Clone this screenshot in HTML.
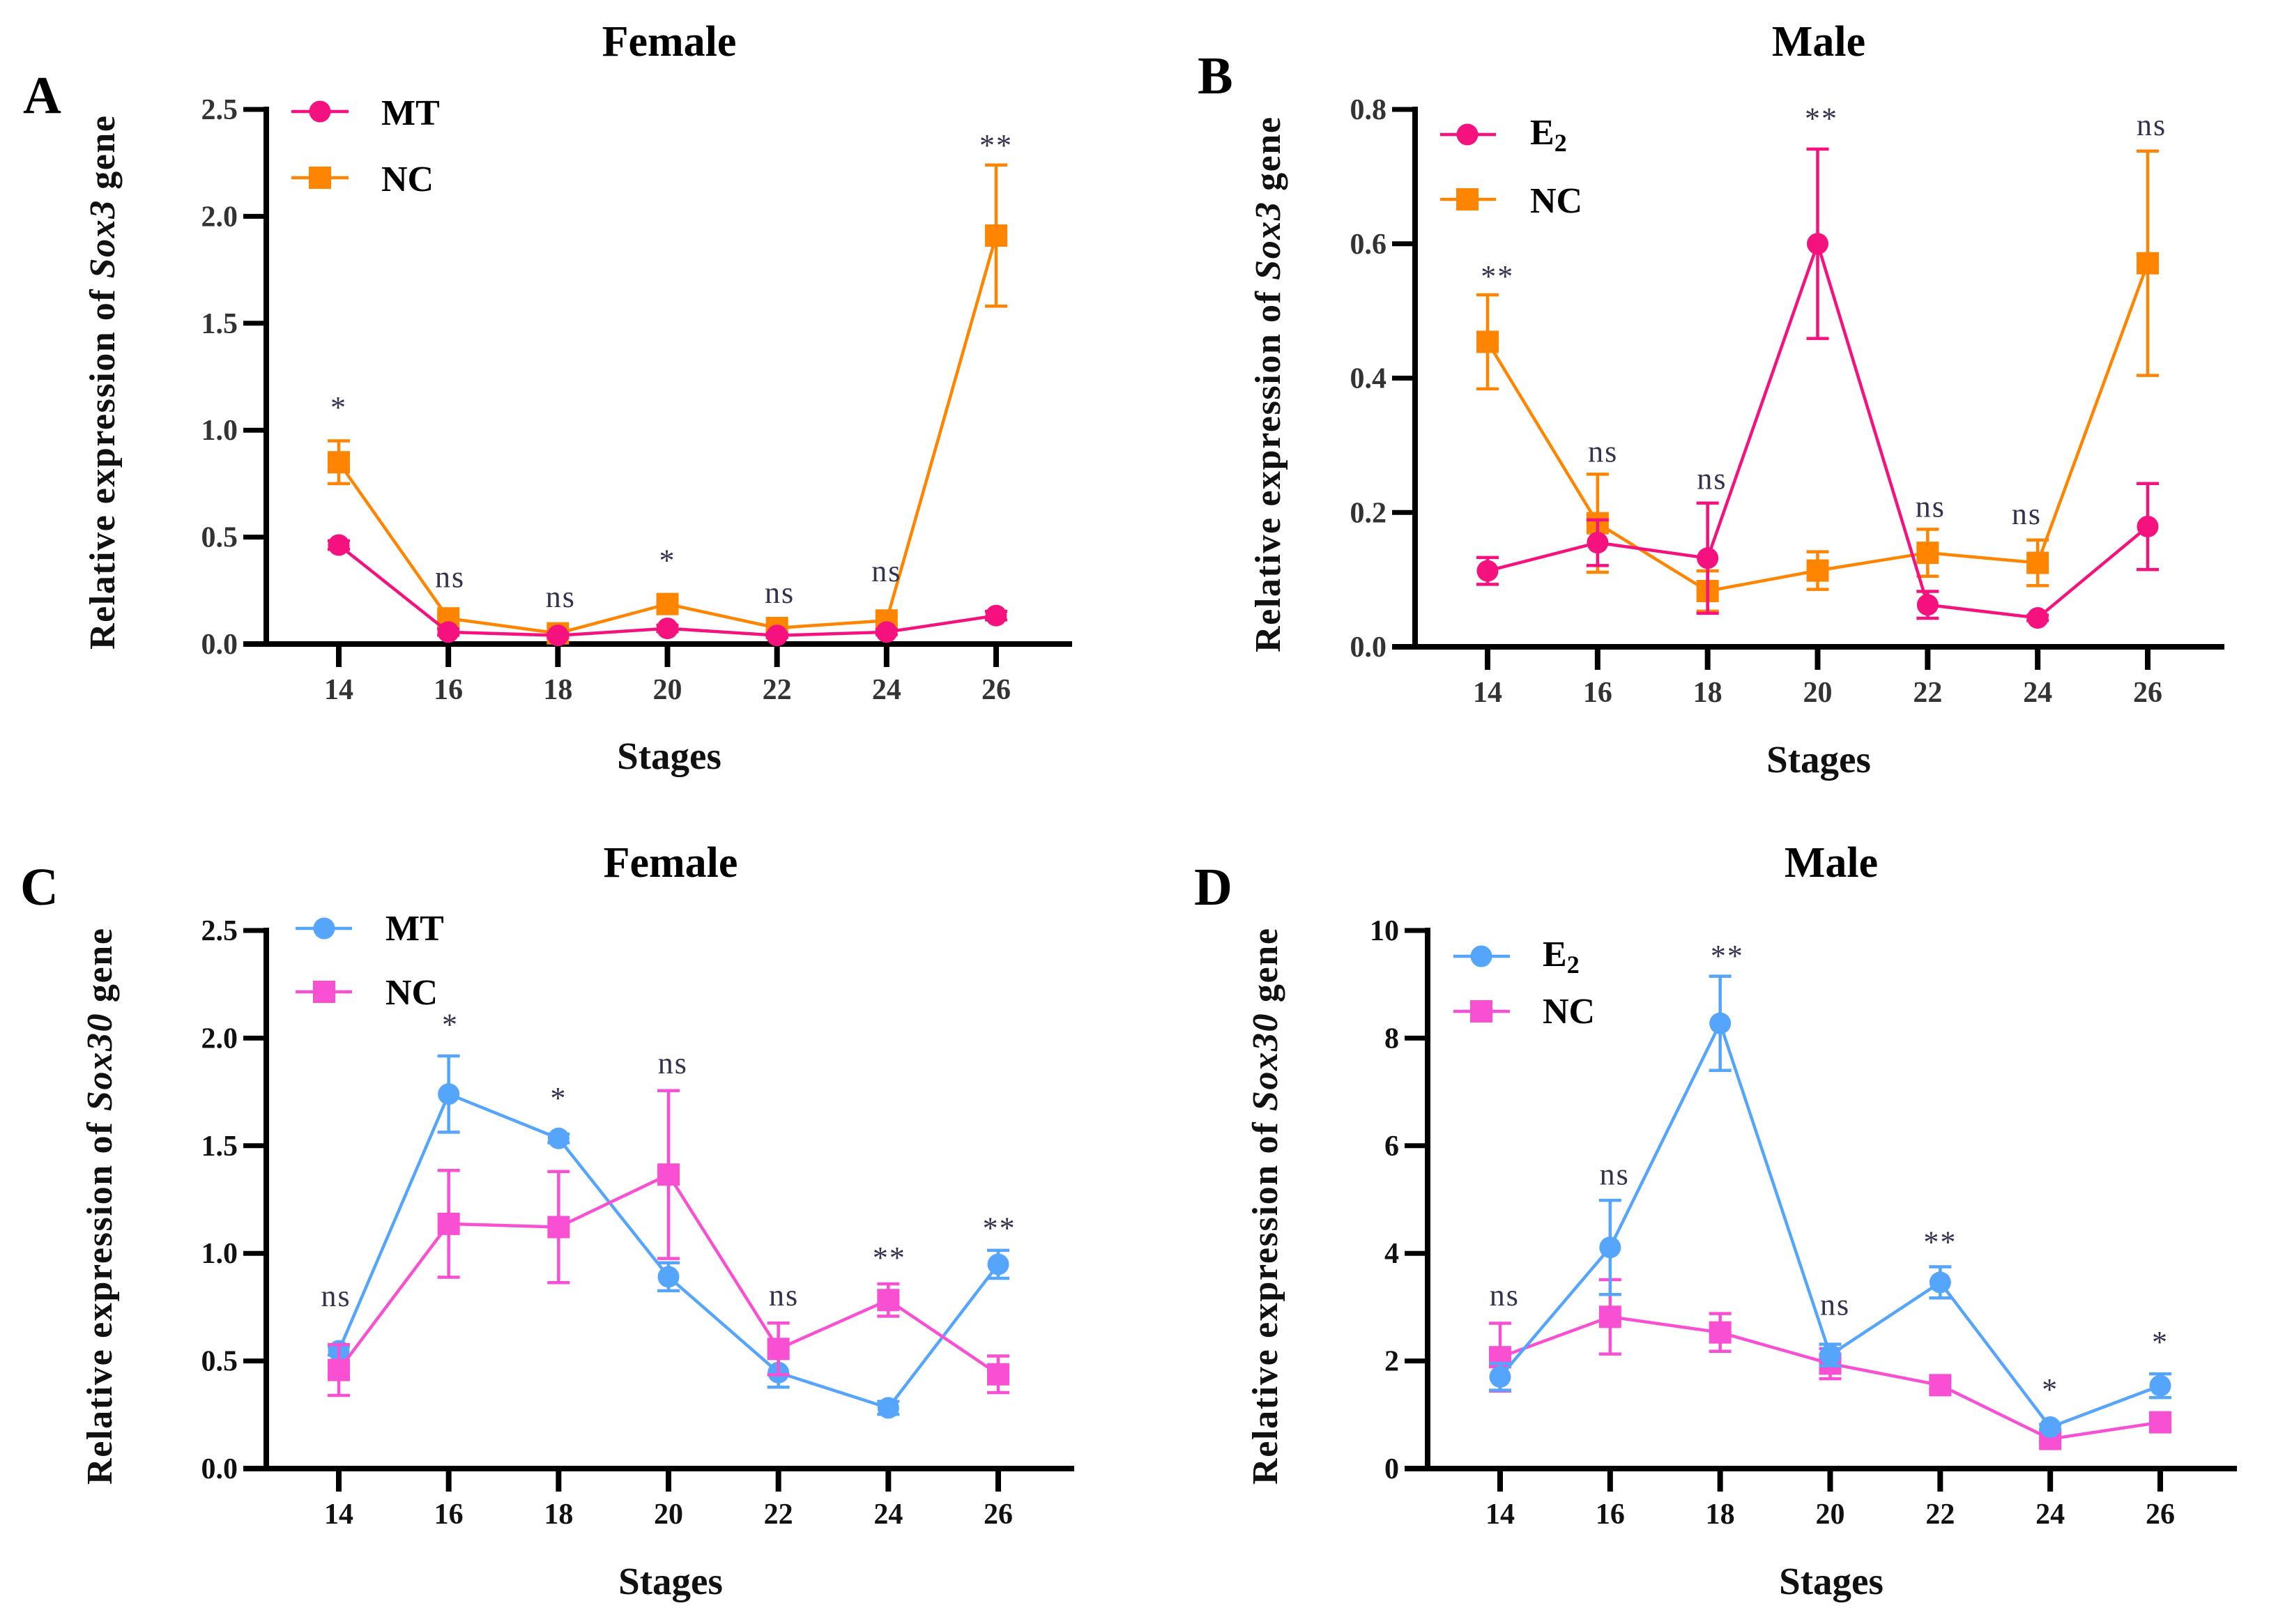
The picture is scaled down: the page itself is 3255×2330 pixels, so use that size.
<!DOCTYPE html>
<html lang="en">
<head>
<meta charset="utf-8">
<title>Relative expression of Sox3 and Sox30 genes</title>
<style>
html,body{margin:0;padding:0;background:#fff;width:3255px;height:2330px;overflow:hidden}
svg{display:block}
text{font-family:"Liberation Serif",serif}
.title{font-size:62px;font-weight:bold;text-anchor:middle;fill:#000}
.letter{font-size:76px;font-weight:bold;fill:#000}
.stages{font-size:55px;font-weight:bold;text-anchor:middle;fill:#111}
.ytitle{font-size:52px;font-weight:bold;fill:#111}
.legend{font-size:52px;font-weight:bold;fill:#000}
.sub{font-size:36px}
.tick{font-size:42px;font-weight:bold}
.sig{font-size:44px;fill:#33334f;text-anchor:middle;letter-spacing:2px}
</style>
</head>
<body>
<svg id="figure" width="3255" height="2330" viewBox="0 0 3255 2330" xmlns="http://www.w3.org/2000/svg">
  <rect width="3255" height="2330" fill="#fff"/>

  <text class="letter" x="33" y="162">A</text>
  <text class="letter" x="1718" y="134">B</text>
  <text class="letter" x="29" y="1298">C</text>
  <text class="letter" x="1713" y="1298">D</text>

  <text class="title" x="960" y="80">Female</text>
  <text class="title" x="2609" y="80">Male</text>
  <text class="title" x="962" y="1258">Female</text>
  <text class="title" x="2627" y="1258">Male</text>

  <text class="stages" x="960" y="1103">Stages</text>
  <text class="stages" x="2609" y="1108">Stages</text>
  <text class="stages" x="962" y="2287">Stages</text>
  <text class="stages" x="2627" y="2287">Stages</text>

  <text class="ytitle" transform="translate(164 932) rotate(-90)" textLength="766">Relative expression of <tspan font-style="italic">Sox3</tspan> gene</text>
  <text class="ytitle" transform="translate(1836 936) rotate(-90)" textLength="768">Relative expression of <tspan font-style="italic">Sox3</tspan> gene</text>
  <text class="ytitle" transform="translate(160 2130) rotate(-90)" textLength="798">Relative expression of <tspan font-style="italic">Sox30</tspan> gene</text>
  <text class="ytitle" transform="translate(1832 2130) rotate(-90)" textLength="798">Relative expression of <tspan font-style="italic">Sox30</tspan> gene</text>

  <g>
    <line x1="418" x2="500" y1="160" y2="160" stroke="#F5127F" stroke-width="4.5"/>
    <circle cx="459" cy="160" r="15.5" fill="#F5127F"/>
    <text class="legend" x="547" y="179">MT</text>
    <line x1="418" x2="500" y1="255" y2="255" stroke="#FF8500" stroke-width="4.5"/>
    <rect x="443" y="239" width="32" height="32" fill="#FF8500"/>
    <text class="legend" x="547" y="274">NC</text>
  </g>
  <g>
    <line x1="2066" x2="2146" y1="193" y2="193" stroke="#F5127F" stroke-width="4.5"/>
    <circle cx="2105" cy="193" r="15.5" fill="#F5127F"/>
    <text class="legend" x="2195" y="207">E<tspan class="sub" dy="10">2</tspan></text>
    <line x1="2066" x2="2146" y1="286" y2="286" stroke="#FF8500" stroke-width="4.5"/>
    <rect x="2089" y="270" width="32" height="32" fill="#FF8500"/>
    <text class="legend" x="2195" y="305">NC</text>
  </g>
  <g>
    <line x1="424" x2="505" y1="1332" y2="1332" stroke="#55A5FC" stroke-width="4.5"/>
    <circle cx="465" cy="1332" r="15.5" fill="#55A5FC"/>
    <text class="legend" x="553" y="1349">MT</text>
    <line x1="424" x2="505" y1="1423" y2="1423" stroke="#F94FD2" stroke-width="4.5"/>
    <rect x="449" y="1407" width="32" height="32" fill="#F94FD2"/>
    <text class="legend" x="553" y="1441">NC</text>
  </g>
  <g>
    <line x1="2085" x2="2166" y1="1372" y2="1372" stroke="#55A5FC" stroke-width="4.5"/>
    <circle cx="2125" cy="1372" r="15.5" fill="#55A5FC"/>
    <text class="legend" x="2213" y="1386">E<tspan class="sub" dy="10">2</tspan></text>
    <line x1="2085" x2="2166" y1="1451" y2="1451" stroke="#F94FD2" stroke-width="4.5"/>
    <rect x="2109" y="1435" width="32" height="32" fill="#F94FD2"/>
    <text class="legend" x="2213" y="1468">NC</text>
  </g>
</svg>

<script>
// ---- shared categories ----
const stages = [14, 16, 18, 20, 22, 24, 26];

// ---- panel A: Sox3 female ----
const aTicks = [0, 0.5, 1, 1.5, 2, 2.5];
const aTickLabels = ['0.0', '0.5', '1.0', '1.5', '2.0', '2.5'];
const aTreat = [0.463, 0.056, 0.04, 0.073, 0.04, 0.056, 0.133];
const aTreatErr = [0.02, 0.015, 0.01, 0.015, 0.01, 0.012, 0.02];
const aControl = [0.85, 0.12, 0.05, 0.187, 0.075, 0.11, 1.91];
const aControlErr = [0.1, 0.02, 0.01, 0.02, 0.01, 0.02, 0.33];
const aSigLabels = ['*', 'ns', 'ns', '*', 'ns', 'ns', '**'];
const aSigStages = [14, 16.03, 18.05, 20, 22.05, 24, 26];
const aSigLevels = [1.126, 0.298, 0.206, 0.412, 0.225, 0.327, 2.352];

// ---- panel B: Sox3 male ----
const bTicks = [0, 0.2, 0.4, 0.6, 0.8];
const bTickLabels = ['0.0', '0.2', '0.4', '0.6', '0.8'];
const bTreat = [0.113, 0.155, 0.132, 0.6, 0.0625, 0.043, 0.179];
const bTreatErr = [0.02, 0.034, 0.082, 0.141, 0.02, 0.004, 0.064];
const bControl = [0.454, 0.184, 0.083, 0.1135, 0.14, 0.125, 0.571];
const bControlErr = [0.07, 0.073, 0.03, 0.028, 0.035, 0.034, 0.167];
const bSigLabels = ['**', 'ns', 'ns', '**', 'ns', 'ns', 'ns'];
const bSigStages = [14.18, 16.1, 18.08, 20.07, 22.05, 23.8, 26.07];
const bSigLevels = [0.558, 0.286, 0.2456, 0.793, 0.204, 0.193, 0.772];

// ---- panel C: Sox30 female ----
const cTicks = [0, 0.5, 1, 1.5, 2, 2.5];
const cTickLabels = ['0.0', '0.5', '1.0', '1.5', '2.0', '2.5'];
const cTreat = [0.547, 1.74, 1.534, 0.891, 0.446, 0.282, 0.949];
const cTreatErr = [0.02, 0.177, 0.02, 0.065, 0.068, 0.03, 0.065];
const cControl = [0.458, 1.137, 1.122, 1.366, 0.556, 0.783, 0.438];
const cControlErr = [0.118, 0.248, 0.258, 0.39, 0.12, 0.075, 0.085];
const cSigLabels = ['ns', '*', '*', 'ns', 'ns', '**', '**'];
const cSigStages = [13.95, 16.03, 18, 20.08, 22.1, 24.02, 26.02];
const cSigLevels = [0.788, 2.083, 1.741, 1.869, 0.79, 1.0, 1.137];

// ---- panel D: Sox30 male ----
const dTicks = [0, 2, 4, 6, 8, 10];
const dTickLabels = ['0', '2', '4', '6', '8', '10'];
const dTreat = [1.705, 4.11, 8.275, 2.11, 3.46, 0.77, 1.54];
const dTreatErr = [0.25, 0.875, 0.875, 0.2, 0.29, 0.05, 0.22];
const dControl = [2.07, 2.82, 2.53, 1.95, 1.55, 0.55, 0.86];
const dControlErr = [0.63, 0.69, 0.35, 0.28, 0.08, 0.04, 0.1];
const dSigLabels = ['ns', 'ns', '**', 'ns', '**', '*', '*'];
const dSigStages = [14.08, 16.08, 18.13, 20.09, 22, 24, 26];
const dSigLevels = [3.16, 5.41, 9.61, 2.99, 4.29, 1.55, 2.43];

const NS = 'http://www.w3.org/2000/svg';
const fig = document.getElementById('figure');

function make(tag, parent, props) {
  const el = document.createElementNS(NS, tag);
  for (const k in props) el.setAttribute(k, props[k]);
  parent.appendChild(el);
  return el;
}

function drawSeries(root, key, kind, color, values, errs, x, y) {
  const g = make('g', root, {});
  
  

  values.forEach(function (v, i) {
    const px = x(stages[i]);
    const hi = y(v + errs[i]);
    const lo = y(v - errs[i]);
    const stem = make('line', g, { x1: px, x2: px, y1: hi, y2: lo, stroke: color, 'stroke-width': 4.5 });
    
    
    const capTop = make('line', g, { x1: px - 16, x2: px + 16, y1: hi, y2: hi, stroke: color, 'stroke-width': 4.5 });
    
    
    const capBottom = make('line', g, { x1: px - 16, x2: px + 16, y1: lo, y2: lo, stroke: color, 'stroke-width': 4.5 });
    
    
  });

  const pts = values.map(function (v, i) { return x(stages[i]) + ',' + y(v); }).join(' ');
  const line = make('polyline', g, { points: pts, fill: 'none', stroke: color, 'stroke-width': 4.5, 'stroke-linejoin': 'round' });
  
  

  values.forEach(function (v, i) {
    const px = x(stages[i]);
    const py = y(v);
    let mark;
    if (kind === 'circle') {
      mark = make('circle', g, { cx: px, cy: py, r: 15.5, fill: color });
    } else {
      mark = make('rect', g, { x: px - 16, y: py - 16, width: 32, height: 32, fill: color });
    }
    
    
  });
}

function drawPanel(cfg) {
  const root = make('g', fig, {});
  
  

  const top = cfg.ticks[cfg.ticks.length - 1];
  const x = function (s) { return cfg.x14 + (s - 14) / 12 * (cfg.x26 - cfg.x14); };
  const y = function (v) { return cfg.y0 - v / top * (cfg.y0 - cfg.yTop); };

  const yAxis = make('line', root, { x1: cfg.axisX, x2: cfg.axisX, y1: cfg.yTop - 4, y2: cfg.y0 + 4, stroke: '#000', 'stroke-width': 8 });
  
  
  const xAxis = make('line', root, { x1: cfg.axisX - 33, x2: cfg.xEnd, y1: cfg.y0, y2: cfg.y0, stroke: '#000', 'stroke-width': 8 });
  
  

  cfg.ticks.forEach(function (t, i) {
    const tick = make('line', root, { x1: cfg.axisX - 33, x2: cfg.axisX, y1: y(t), y2: y(t), stroke: '#000', 'stroke-width': 7 });
    
    
    const label = make('text', root, { x: cfg.axisX - 41, y: y(t) + 14, 'text-anchor': 'end', class: 'tick', fill: cfg.tickColor });
    label.textContent = cfg.tickLabels[i];
    
    
  });

  stages.forEach(function (s) {
    const tick = make('line', root, { x1: x(s), x2: x(s), y1: cfg.y0, y2: cfg.y0 + 33, stroke: '#000', 'stroke-width': 8 });
    
    
    const label = make('text', root, { x: x(s), y: cfg.labelY, 'text-anchor': 'middle', class: 'tick', fill: cfg.tickColor });
    label.textContent = String(s);
    
    
  });

  if (cfg.controlOnTop) {
    drawSeries(root, cfg.treatKey, 'circle', cfg.treatColor, cfg.treat, cfg.treatErr, x, y);
    drawSeries(root, 'nc', 'square', cfg.controlColor, cfg.control, cfg.controlErr, x, y);
  } else {
    drawSeries(root, 'nc', 'square', cfg.controlColor, cfg.control, cfg.controlErr, x, y);
    drawSeries(root, cfg.treatKey, 'circle', cfg.treatColor, cfg.treat, cfg.treatErr, x, y);
  }

  cfg.sigLabels.forEach(function (txt, i) {
    const fs = 44;
    const base = y(cfg.sigLevels[i]) + (txt === 'ns' ? 0.23 : 0.47) * fs;
    const sig = make('text', root, { x: x(cfg.sigStages[i]), y: base, class: 'sig' });
    sig.textContent = txt;
    
    
  });
}

const PINK = '#F5127F', ORANGE = '#FF8500', BLUE = '#55A5FC', MAGENTA = '#F94FD2';

drawPanel({ id: 'a', axisX: 382, y0: 924, yTop: 157, x14: 486, x26: 1429, xEnd: 1538, labelY: 1003, tickColor: '#333',
  ticks: aTicks, tickLabels: aTickLabels, treatKey: 'mt', treatColor: PINK, controlColor: ORANGE,
  treat: aTreat, treatErr: aTreatErr, control: aControl, controlErr: aControlErr,
  sigLabels: aSigLabels, sigStages: aSigStages, sigLevels: aSigLevels });

drawPanel({ id: 'b', axisX: 2030, y0: 928, yTop: 157, x14: 2134, x26: 3081, xEnd: 3191, labelY: 1007, tickColor: '#333',
  ticks: bTicks, tickLabels: bTickLabels, treatKey: 'e2', treatColor: PINK, controlColor: ORANGE,
  treat: bTreat, treatErr: bTreatErr, control: bControl, controlErr: bControlErr,
  sigLabels: bSigLabels, sigStages: bSigStages, sigLevels: bSigLevels });

drawPanel({ id: 'c', axisX: 382, y0: 2107, yTop: 1335, x14: 486, x26: 1432, xEnd: 1541, labelY: 2186, tickColor: '#111', controlOnTop: true,
  ticks: cTicks, tickLabels: cTickLabels, treatKey: 'mt', treatColor: BLUE, controlColor: MAGENTA,
  treat: cTreat, treatErr: cTreatErr, control: cControl, controlErr: cControlErr,
  sigLabels: cSigLabels, sigStages: cSigStages, sigLevels: cSigLevels });

drawPanel({ id: 'd', axisX: 2048, y0: 2107, yTop: 1335, x14: 2152, x26: 3099, xEnd: 3209, labelY: 2186, tickColor: '#111',
  ticks: dTicks, tickLabels: dTickLabels, treatKey: 'e2', treatColor: BLUE, controlColor: MAGENTA,
  treat: dTreat, treatErr: dTreatErr, control: dControl, controlErr: dControlErr,
  sigLabels: dSigLabels, sigStages: dSigStages, sigLevels: dSigLevels });
</script>
</body>
</html>
